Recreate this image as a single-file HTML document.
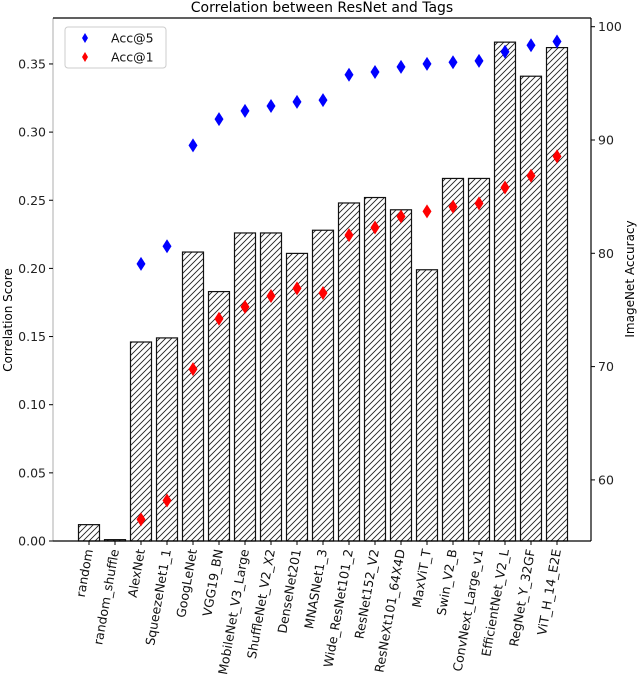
<!DOCTYPE html>
<html><head><meta charset="utf-8"><style>
html,body{margin:0;padding:0;background:#fff}
svg{display:block;font-family:"DejaVu Sans","Liberation Sans",sans-serif}
</style></head><body>
<svg id="chart" width="640" height="683" viewBox="0 0 640 683">
<defs>
<pattern id="hatch" patternUnits="userSpaceOnUse" width="6" height="6">
<path d="M-1,7 L7,-1 M-4,4 L4,-4 M2,10 L10,2" stroke="#222" stroke-width="0.9"/>
</pattern>
</defs>
<g id="plot"></g>
</svg>
<script>
const categories=["random","random_shuffle","AlexNet","SqueezeNet1_1","GoogLeNet","VGG19_BN","MobileNet_V3_Large","ShuffleNet_V2_X2","DenseNet201","MNASNet1_3","Wide_ResNet101_2","ResNet152_V2","ResNeXt101_64X4D","MaxViT_T","Swin_V2_B","ConvNext_Large_v1","EfficientNet_V2_L","RegNet_Y_32GF","ViT_H_14_E2E"];
const corrScores=[0.012,0.001,0.146,0.149,0.212,0.183,0.226,0.226,0.211,0.228,0.248,0.252,0.243,0.199,0.266,0.266,0.366,0.341,0.362];
const acc5=[null,null,79.07,80.62,89.53,91.84,92.57,93.0,93.37,93.52,95.76,96.0,96.45,96.72,96.86,96.98,97.79,98.36,98.69];
const acc1=[null,null,56.52,58.18,69.78,74.22,75.27,76.23,76.9,76.5,81.6,82.28,83.25,83.7,84.11,84.41,85.81,86.84,88.55];
const leftTicks=[0,0.05,0.10,0.15,0.20,0.25,0.30,0.35];
const rightTicks=[60,70,80,90,100];

const NS="http://www.w3.org/2000/svg";
const g=document.getElementById('plot');
const L=53,R=591,T=18,B=541;
const xPos=i=>89+i*26;
const yL=v=>541-v*1363;
const yR=v=>253.3-(v-80)*11.33;
function el(tag,attrs,parent){const e=document.createElementNS(NS,tag);for(const k in attrs)e.setAttribute(k,attrs[k]);(parent||g).appendChild(e);return e;}

const title=el('text',{x:322,y:12,'text-anchor':'middle','font-size':14});
title.textContent='Correlation between ResNet and Tags';



categories.forEach((c,i)=>{
  const v=corrScores[i];
  const b=el('rect',{x:xPos(i)-10.5,y:yL(v),width:21,height:B-yL(v),fill:'url(#hatch)',stroke:'#111','stroke-width':1.2});
  
  
});

function diamond(x,y,col,name){
  const d=el('path',{d:`M${x},${y-7} L${x+4.5},${y} L${x},${y+7} L${x-4.5},${y} Z`,fill:col});
  
  
}
categories.forEach((c,i)=>{
  if(acc5[i]!=null) diamond(xPos(i),yR(acc5[i]),'#0000ff','acc5-point-'+c.toLowerCase());
  if(acc1[i]!=null) diamond(xPos(i),yR(acc1[i]),'#ff0000','acc1-point-'+c.toLowerCase());
});

// spines
el('line',{x1:L,x2:L,y1:T,y2:B,stroke:'#bbb','stroke-width':1.2});
el('line',{x1:L,x2:R,y1:T,y2:T,stroke:'#000','stroke-width':1.2});
el('line',{x1:R,x2:R,y1:T,y2:B,stroke:'#000','stroke-width':1.2});
el('line',{x1:L,x2:R,y1:B,y2:B,stroke:'#000','stroke-width':1.2});

leftTicks.forEach(v=>{
  const y=yL(v);
  el('line',{x1:L-4,x2:L,y1:y,y2:y,stroke:'#000'});
  const t=el('text',{x:L-7,y:y+4.5,'text-anchor':'end','font-size':12.5,fill:'#222'});
  t.textContent=v.toFixed(2);
  
  
});
rightTicks.forEach(v=>{
  const y=yR(v);
  el('line',{x1:R,x2:R+4,y1:y,y2:y,stroke:'#000'});
  const t=el('text',{x:R+7,y:y+4.5,'text-anchor':'start','font-size':12.5,fill:'#222'});
  t.textContent=v;
  
  
});
categories.forEach((c,i)=>{
  const x=xPos(i);
  el('line',{x1:x,x2:x,y1:B,y2:B+4,stroke:'#000'});
  const t=el('text',{x:0,y:0,'text-anchor':'end','font-size':12.5,fill:'#111',transform:`translate(${x+4},${B+9}) rotate(-80)`});
  t.textContent=c;
  
  
});

const yl=el('text',{x:0,y:0,'text-anchor':'middle','font-size':12,transform:'translate(12,320) rotate(-90)'});
yl.textContent='Correlation Score';


const yr=el('text',{x:0,y:0,'text-anchor':'middle','font-size':12,transform:'translate(634,279) rotate(-90)'});
yr.textContent='ImageNet Accuracy';



const lg=el('g',{});


el('rect',{x:65,y:27,width:101,height:41,rx:3,fill:'#fff',stroke:'#ccc'},lg);
[['Acc@5','#0000ff',38],['Acc@1','#ff0000',57]].forEach(([n,col,y])=>{
  const m=el('path',{d:`M85,${y-5} L88,${y} L85,${y+5} L82,${y} Z`,fill:col},lg);
  
  
  const t=el('text',{x:111,y:y+4.5,'font-size':12.5,fill:'#111'},lg);
  t.textContent=n;
  
  
});
</script>
</body></html>
